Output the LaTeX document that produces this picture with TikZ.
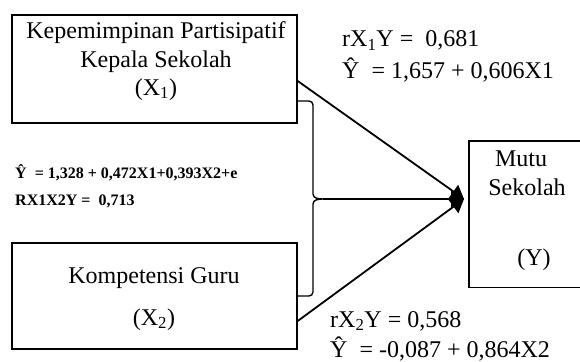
\documentclass[tikz,border=0pt]{standalone}
\usepackage{fontspec}
\setmainfont{Liberation Serif}
\usetikzlibrary{arrows.meta}
\begin{document}
\begin{tikzpicture}[x=1pt,y=-1pt,
  box/.style={draw,line width=1.4pt,rectangle,inner sep=0pt},
  txt/.style={anchor=base,inner sep=0pt,font=\fontsize{24}{29}\selectfont},
  ltxt/.style={anchor=base west,inner sep=0pt,font=\fontsize{24}{29}\selectfont},
  btxt/.style={anchor=base west,inner sep=0pt,font=\fontsize{16}{19}\selectfont\bfseries},
  conn/.style={line width=1.8pt,-{Triangle[length=13pt,width=16pt]}},
  brace/.style={line width=1.4pt}]
\useasboundingbox (0,0) rectangle (580,361);
% boxes
\node[box,minimum width=285pt,minimum height=108pt] (x1) at (154.5,69) {};
\node[box,minimum width=285pt,minimum height=106pt] (x2) at (154.5,296) {};
\node[inner sep=0pt,minimum width=131pt,minimum height=146pt] (y) at (534.5,214) {};
\draw[line width=1.4pt] (y.north east) -- (y.north west) -- (y.south west) -- (y.south east);
% box texts
\node[txt] (t1a) at (156,38) {Kepemimpinan Partisipatif};
\node[txt] (t1b) at (156,67) {Kepala Sekolah};
\node[txt] (t1c) at (156,95) {(X\textsubscript{1})};
\node[txt] (t2a) at (154,283) {Kompetensi Guru};
\node[txt] (t2b) at (154,325) {(X\textsubscript{2})};
\node[txt] (ya) at (521,166) {Mutu};
\node[txt] (yb) at (527,195) {Sekolah};
\node[txt] (yc) at (534,265) {(Y)};
% labels
\node[ltxt] (r1) at (342,47) {rX\textsubscript{1}Y =\ \ 0,681};
\node[ltxt] (e1) at (342,78) {Ŷ\ \ = 1,657 + 0,606X1};
\node[ltxt] (r2) at (330,327) {rX\textsubscript{2}Y = 0,568};
\node[ltxt] (e2) at (330,357) {Ŷ\ \ = -0,087 + 0,864X2};
\node[btxt] (e3) at (15,178) {Ŷ\ \ = 1,328 + 0,472X1+0,393X2+e};
\node[btxt] (r3) at (15,205) {RX1X2Y =\ \ 0,713};
% coordinates
\coordinate (tip) at (464,199);
\coordinate (b1) at (x1.east |- 0,81);
\coordinate (b2) at (x2.east |- 0,321);
\coordinate (bt) at (x1.east |- 0,101);
\coordinate (bb) at (x2.east |- 0,296);
\coordinate (bm) at (323,199);
% brace
\draw[brace] (bt) -- (309,101) to[out=0,in=90] (313,105) -- (313,194)
  to[out=-90,in=180] (bm) to[out=180,in=90] (313,204) -- (313,292)
  to[out=-90,in=0] (309,296) -- (bb);
% connectors
\draw[conn] (b1) -- (tip);
\draw[conn] (b2) -- (tip);
\draw[conn] (bm) -- (tip);
\end{tikzpicture}
\end{document}
